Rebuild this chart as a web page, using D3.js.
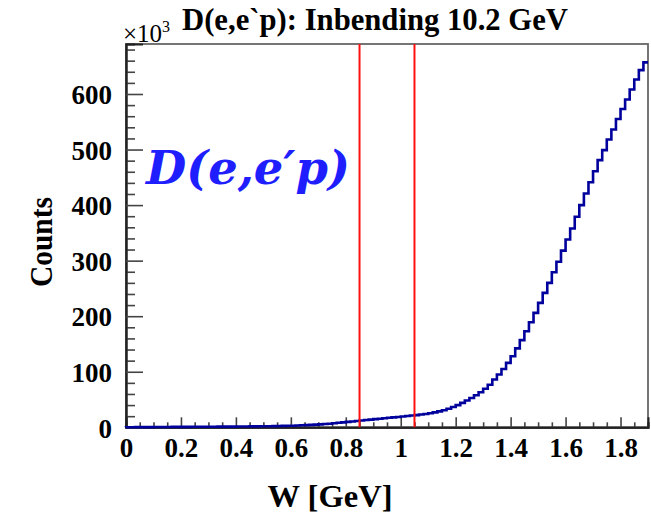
<!DOCTYPE html>
<html>
<head>
<meta charset="utf-8">
<script src="https://cdn.jsdelivr.net/npm/d3@7/dist/d3.min.js"></script>
<style>
  html, body { margin: 0; padding: 0; background: #fff; }
  svg { display: block; }
</style>
</head>
<body>
<svg id="chart" width="651" height="520"></svg>
<script>
// ---------------- data ----------------
const title = "D(e,e`p): Inbending 10.2 GeV";
const xTitle = "W [GeV]";
const yTitle = "Counts";
const annotation = "D(e,e\u2032p)";
const xDomain = [0, 1.9];
const yDomain = [0, 690];          // in units of 10^3
const binWidth = 1 / 60;           // GeV
const counts = [                   // x10^3, one per bin starting at W = 0
  0.1, 0.2, 0.3, 0.3, 0.4, 0.4, 0.5, 0.5, 0.6, 0.6,
  0.7, 0.7, 0.8, 0.8, 0.9, 0.9, 1.0, 1.0, 1.1, 1.1,
  1.2, 1.2, 1.3, 1.3, 1.4, 1.5, 1.5, 1.6, 1.7, 1.8,
  1.9, 2.0, 2.1, 2.3, 2.5, 2.7, 2.9, 3.2, 3.6, 4.0,
  4.4, 4.8, 5.3, 5.9, 6.5, 7.3, 8.1, 8.9, 9.7, 10.5,
  11.4, 12.2, 13.1, 13.9, 14.7, 15.5, 16.3, 17.1, 17.8, 18.6,
  19.4, 20.3, 21.2, 22.0, 23.0, 24.0, 25.3, 26.8, 28.6, 30.8,
  33.4, 36.5, 40.0, 44.0, 48.2, 52.8, 57.8, 63.2, 69.5, 76.5,
  86, 95, 105, 116, 128, 142, 157, 173, 189, 206,
  224, 242, 260, 279, 298, 318, 338, 358, 379, 400,
  421, 441, 461, 481, 499, 518, 536, 555, 573, 590,
  608, 626, 643, 657
];
const cutLines = [0.85, 1.05];     // W cut window
const xMajorTicks = [0, 0.2, 0.4, 0.6, 0.8, 1, 1.2, 1.4, 1.6, 1.8];
const xTickLabels = ["0", "0.2", "0.4", "0.6", "0.8", "1", "1.2", "1.4", "1.6", "1.8"];
const xMinorStep = 0.05;
const yMajorTicks = [0, 100, 200, 300, 400, 500, 600];
const yTickLabels = ["0", "100", "200", "300", "400", "500", "600"];
const yMinorStep = 20;

// ---------------- layout ----------------
const frame = { left: 126, right: 648, top: 44, bottom: 427.3 };
const svg = d3.select("#chart");
const x = d3.scaleLinear().domain(xDomain).range([frame.left, frame.right]);
const y = d3.scaleLinear().domain(yDomain).range([frame.bottom, frame.top]);
const serif = "'Liberation Serif', serif";

// minor tick arrays
const xMinor = d3.range(0, xDomain[1] + 1e-9, xMinorStep).filter(v => !xMajorTicks.some(m => Math.abs(m - v) < 1e-6));
const yMinor = d3.range(0, yDomain[1] + 1e-9, yMinorStep).filter(v => v % 100 !== 0);

// frame (top / right)
svg.append("rect")
  .attr("x", frame.left).attr("y", frame.top)
  .attr("width", frame.right - frame.left).attr("height", frame.bottom - frame.top)
  .attr("fill", "none").attr("stroke", "#666").attr("stroke-width", 1.8);

// ---------------- axes ----------------
const xAxisMajor = d3.axisBottom(x).tickValues(xMajorTicks)
  .tickSize(-10).tickPadding(11).tickFormat((d, i) => xTickLabels[i]);
const xAxisMinor = d3.axisBottom(x).tickValues(xMinor).tickSize(-5).tickFormat("");
const yAxisMajor = d3.axisLeft(y).tickValues(yMajorTicks)
  .tickSize(-17).tickPadding(14).tickFormat((d, i) => yTickLabels[i]);
const yAxisMinor = d3.axisLeft(y).tickValues(yMinor).tickSize(-9).tickFormat("");

function styleAxis(g) {
  g.attr("font-size", null).attr("font-family", null);
  g.select(".domain").attr("stroke", "#222").attr("stroke-width", 2);
  g.selectAll(".tick line").attr("stroke", "#444").attr("stroke-width", 1.6);
  g.selectAll(".tick text")
    .style("font-family", serif).style("font-weight", "bold")
    .style("font-size", "27px").attr("fill", "#000");
}

svg.append("g").attr("transform", `translate(0,${frame.bottom})`).call(xAxisMinor).call(styleAxis);
svg.append("g").attr("transform", `translate(0,${frame.bottom})`).call(xAxisMajor).call(styleAxis);
svg.append("g").attr("transform", `translate(${frame.left},0)`).call(yAxisMinor).call(styleAxis);
svg.append("g").attr("transform", `translate(${frame.left},0)`).call(yAxisMajor).call(styleAxis)
  .selectAll(".tick text").attr("dy", "0.36em");

// ---------------- histogram ----------------
const pts = [[x(0), y(0)]];
counts.forEach((c, i) => {
  const lo = Math.min(i * binWidth, xDomain[1]);
  const hi = Math.min((i + 1) * binWidth, xDomain[1]);
  pts.push([x(lo), y(c)]);
  pts.push([x(hi), y(c)]);
});
svg.append("path")
  .attr("d", d3.line()(pts))
  .attr("fill", "none").attr("stroke", "#00009c")
  .attr("stroke-width", 2.6).attr("stroke-linejoin", "miter");

// ---------------- cut lines ----------------
svg.selectAll("line.cut").data(cutLines).enter().append("line")
  .attr("class", "cut")
  .attr("x1", d => x(d)).attr("x2", d => x(d))
  .attr("y1", frame.top).attr("y2", frame.bottom)
  .attr("stroke", "#ff1010").attr("stroke-width", 2);

// ---------------- texts ----------------
svg.append("text")
  .attr("x", 375).attr("y", 30)
  .attr("text-anchor", "middle")
  .style("font-family", serif).style("font-weight", "bold").style("font-size", "32px")
  .attr("textLength", 386).attr("lengthAdjust", "spacingAndGlyphs")
  .text(title);

const exp = svg.append("text")
  .attr("x", 123).attr("y", 42)
  .style("font-family", serif).style("font-size", "25px").attr("fill", "#000");
exp.append("tspan").text("\u00d710");
exp.append("tspan").style("font-size", "16px").attr("dy", -10).text("3");

svg.append("text")
  .attr("x", 330).attr("y", 507)
  .attr("text-anchor", "middle")
  .style("font-family", serif).style("font-weight", "bold").style("font-size", "32px")
  .attr("textLength", 125).attr("lengthAdjust", "spacingAndGlyphs")
  .text(xTitle);

svg.append("text")
  .attr("transform", "translate(52,242) rotate(-90)")
  .attr("text-anchor", "middle")
  .style("font-family", serif).style("font-weight", "bold").style("font-size", "32px")
  .attr("textLength", 90).attr("lengthAdjust", "spacingAndGlyphs")
  .text(yTitle);

svg.append("text")
  .attr("x", 146).attr("y", 184)
  .style("font-family", "'DejaVu Serif', serif").style("font-weight", "bold")
  .style("font-style", "italic").style("font-size", "47px")
  .attr("fill", "#1e1eff")
  .attr("textLength", 204).attr("lengthAdjust", "spacingAndGlyphs")
  .text(annotation);
</script>
</body>
</html>
